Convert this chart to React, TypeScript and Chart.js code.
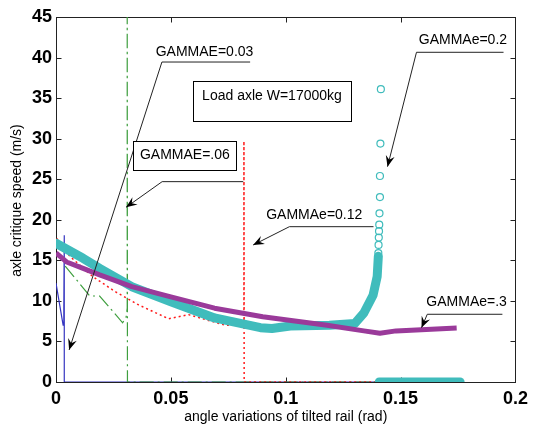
import React, { useEffect, useRef } from 'react';
import { Chart, registerables } from 'chart.js';
Chart.register(...registerables);

const xTickLabels = ['0', '0.05', '0.1', '0.15', '0.2'];
const yTickLabels = ['0', '5', '10', '15', '20', '25', '30', '35', '40', '45'];

// GAMMAE=0.03 (blue solid)
const blueX = [0, 0.0031, 0.0034, 0.0036, 0.0036, 0.141];
const blueY = [12.2, 7.0, 8.9, 18.1, 0, 0];

// GAMMAE=.06 (green dash-dot)
const greenX = [0.0040, 0.0147, 0.019, 0.029, 0.0305, 0.031, 0.031, 0.0311, 0.175];
const greenY = [14.3, 10.6, 10.6, 7.3, 8.0, 9.1, 45, 0, 0];

// GAMMAe=0.12 (red dotted)
const redX = [0.0003, 0.006, 0.016, 0.026, 0.036, 0.049, 0.0578, 0.0736, 0.079, 0.0818, 0.0818, 0.0819, 0.141];
const redY = [17.7, 15.5, 13.0, 11.1, 9.5, 7.8, 8.3, 7.0, 7.0, 7.3, 29.7, 0, 0];

// GAMMAe=0.2 (cyan circles, dense band)
const cyanX = [0, 0.0118, 0.019, 0.033, 0.05, 0.069, 0.089, 0.094, 0.102, 0.119, 0.13, 0.134, 0.138, 0.1398, 0.1403];
const cyanY = [17.1, 15.25, 14.0, 11.75, 9.9, 7.9, 6.7, 6.6, 6.9, 7.0, 7.2, 8.5, 10.7, 13.0, 15.5];
const cyanSparseX = [0.1403, 0.1404, 0.1405, 0.1406, 0.1407, 0.1408, 0.141, 0.141, 0.1412, 0.1414];
const cyanSparseY = [15.9, 16.9, 17.8, 18.6, 19.4, 20.8, 22.8, 25.4, 29.4, 36.1];
const cyanZeroX = [0.1407, 0.1759];
const cyanZeroY = [0, 0];

// GAMMAe=.3 (purple thick)
const purpleX = [0, 0.0046, 0.0118, 0.019, 0.033, 0.05, 0.069, 0.09, 0.118, 0.134, 0.141, 0.148, 0.1744];
const purpleY = [15.9, 14.8, 14.0, 13.2, 11.75, 10.5, 9.1, 8.05, 7.0, 6.3, 6.0, 6.3, 6.65];

const pts = (xs: number[], ys: number[]) => xs.map((x, i) => ({ x, y: ys[i] }));

type Note = { text: string; tx: number; ty: number; align?: CanvasTextAlign; box?: number[]; path?: number[][] };
const notes: Note[] = [
  { text: 'GAMMAE=0.03', tx: 0.0434, ty: 40.7, path: [[0.0845, 39.45], [0.0461, 39.45], [0.0057, 3.95]] },
  { text: 'GAMMAE=.06', tx: 0.0561, ty: 28.0, align: 'center', box: [0.0336, 29.75, 0.0786, 26.14], path: [[0.0815, 24.7], [0.0462, 24.7], [0.0305, 21.54]] },
  { text: 'Load axle W=17000kg', tx: 0.094, ty: 35.3, align: 'center', box: [0.0596, 37.11, 0.1284, 32.22] },
  { text: 'GAMMAe=0.2', tx: 0.1579, ty: 42.16, path: [[0.1948, 40.65], [0.1569, 40.65], [0.1443, 26.55]] },
  { text: 'GAMMAe=0.12', tx: 0.0915, ty: 20.59, path: [[0.1382, 19.15], [0.1016, 19.15], [0.0858, 16.89]] },
  { text: 'GAMMAe=.3', tx: 0.1612, ty: 9.9, path: [[0.1943, 8.35], [0.1616, 8.35], [0.1591, 6.69]] },
];

const FONT = '"Liberation Sans", Arial, sans-serif';

const boxPlugin = {
  id: 'boxPlugin',
  beforeDatasetsDraw(chart: any) {
    const { ctx, chartArea: a, scales } = chart;
    const x = scales.x, y = scales.y;
    ctx.save();
    ctx.strokeStyle = '#222';
    ctx.lineWidth = 1;
    const L = Math.round(a.left) + 0.5, R = Math.round(a.right) + 0.5;
    const T = Math.round(a.top) + 0.5, B = Math.round(a.bottom) + 0.5;
    ctx.strokeRect(L, T, R - L, B - T);
    ctx.beginPath();
    x.ticks.forEach((t: any) => {
      const p = Math.round(x.getPixelForValue(t.value)) + 0.5;
      ctx.moveTo(p, B); ctx.lineTo(p, B - 5);
      ctx.moveTo(p, T); ctx.lineTo(p, T + 5);
    });
    y.ticks.forEach((t: any) => {
      const p = Math.round(y.getPixelForValue(t.value)) + 0.5;
      ctx.moveTo(L, p); ctx.lineTo(L + 5, p);
      ctx.moveTo(R, p); ctx.lineTo(R - 5, p);
    });
    ctx.stroke();
    // axis titles
    ctx.fillStyle = '#000';
    ctx.font = `14px ${FONT}`;
    ctx.textAlign = 'center';
    ctx.textBaseline = 'alphabetic';
    ctx.fillText('angle variations of tilted rail (rad)', (a.left + a.right) / 2, 420.5);
    ctx.translate(20.5, (a.top + a.bottom) / 2 + 1);
    ctx.rotate(-Math.PI / 2);
    ctx.fillText('axle critique speed (m/s)', 0, 0);
    ctx.restore();
  },
  afterDatasetsDraw(chart: any) {
    const { ctx, scales } = chart;
    const px = (v: number) => scales.x.getPixelForValue(v);
    const py = (v: number) => scales.y.getPixelForValue(v);
    ctx.save();
    ctx.font = `14px ${FONT}`;
    ctx.textBaseline = 'middle';
    notes.forEach((n) => {
      if (n.box) {
        const [x0, y0, x1, y1] = n.box;
        ctx.fillStyle = '#fff';
        const bx = Math.round(px(x0)) + 0.5, by = Math.round(py(y0)) + 0.5;
        const bw = Math.round(px(x1) - px(x0)), bh = Math.round(py(y1) - py(y0));
        ctx.fillRect(bx, by, bw, bh);
        ctx.strokeStyle = '#000';
        ctx.lineWidth = 1;
        ctx.strokeRect(bx, by, bw, bh);
      }
      ctx.fillStyle = '#000';
      ctx.textAlign = n.align || 'left';
      ctx.fillText(n.text, px(n.tx), py(n.ty));
      if (n.path) {
        const P = n.path.map(([a, b]) => [px(a), py(b)]);
        ctx.strokeStyle = '#222';
        ctx.lineWidth = 1;
        ctx.beginPath();
        P.forEach(([a, b], i) => (i ? ctx.lineTo(a, b) : ctx.moveTo(a, b)));
        ctx.stroke();
        const [tx, ty] = P[P.length - 1];
        const [sx, sy] = P[P.length - 2];
        const ang = Math.atan2(ty - sy, tx - sx);
        const len = 11, hw = 4.5, notch = 7;
        const c = Math.cos(ang), s = Math.sin(ang);
        const bxp = tx - c * len, byp = ty - s * len;
        ctx.fillStyle = '#000';
        ctx.beginPath();
        ctx.moveTo(tx, ty);
        ctx.lineTo(bxp - s * hw, byp + c * hw);
        ctx.lineTo(tx - c * notch, ty - s * notch);
        ctx.lineTo(bxp + s * hw, byp - c * hw);
        ctx.closePath();
        ctx.fill();
      }
    });
    ctx.restore();
  },
};

export default function App() {
  const ref = useRef<HTMLCanvasElement>(null);
  useEffect(() => {
    const cyan = '#40bcbc';
    const chart = new Chart(ref.current as HTMLCanvasElement, {
      type: 'scatter',
      data: {
        datasets: [
          { label: 'GAMMAe=.3', data: pts(purpleX, purpleY), showLine: true, borderColor: '#9a3a9a', borderWidth: 5, pointRadius: 0, borderJoinStyle: 'round', borderCapStyle: 'butt', order: 0 } as any,
          { label: 'GAMMAe=0.2 sparse', data: pts(cyanSparseX, cyanSparseY), showLine: false, pointStyle: 'circle', pointRadius: 3.5, borderColor: cyan, backgroundColor: 'rgba(0,0,0,0)', pointBorderWidth: 1.2, order: 1 } as any,
          { label: 'GAMMAe=0.2', data: pts(cyanX, cyanY), showLine: true, borderColor: cyan, borderWidth: 9, pointRadius: 0, borderJoinStyle: 'round', borderCapStyle: 'round', order: 2 } as any,
          { label: 'GAMMAe=0.2 zero', data: pts(cyanZeroX, cyanZeroY), showLine: true, borderColor: cyan, borderWidth: 9, pointRadius: 0, borderCapStyle: 'round', order: 2 } as any,
          { label: 'GAMMAe=0.12', data: pts(redX, redY), showLine: true, borderColor: '#ff1a1a', borderWidth: 1.5, borderDash: [2, 3], pointRadius: 0, order: 3 } as any,
          { label: 'GAMMAE=.06', data: pts(greenX, greenY), showLine: true, borderColor: '#3f9f3f', borderWidth: 1.2, borderDash: [14, 4, 2, 4], pointRadius: 0, order: 4 } as any,
          { label: 'GAMMAE=0.03', data: pts(blueX, blueY), showLine: true, borderColor: '#3535c0', borderWidth: 1.2, pointRadius: 0, order: 5 } as any,
        ],
      },
      options: {
        responsive: false,
        animation: false,
        devicePixelRatio: 1,
        events: [],
        layout: { padding: { top: 17, right: 14, left: 0, bottom: 0 } },
        plugins: { legend: { display: false }, tooltip: { enabled: false } },
        scales: {
          x: {
            type: 'linear',
            min: 0,
            max: 0.2,
            grid: { display: false, drawTicks: false },
            border: { display: false },
            afterFit: (s: any) => { s.height = 48; },
            ticks: {
              stepSize: 0.05,
              padding: 6,
              color: '#000',
              font: { family: FONT, size: 18, weight: 'bold' },
              maxRotation: 0,
              callback: (_v: any, i: number) => xTickLabels[i],
            },
          },
          y: {
            type: 'linear',
            min: 0,
            max: 45,
            grid: { display: false, drawTicks: false },
            border: { display: false },
            afterFit: (s: any) => { s.width = 56; },
            ticks: {
              stepSize: 5,
              padding: 4,
              color: '#000',
              font: { family: FONT, size: 18, weight: 'bold' },
              callback: (_v: any, i: number) => yTickLabels[i],
            },
          },
        },
      } as any,
      plugins: [boxPlugin],
    });
    return () => chart.destroy();
  }, []);
  return (
    <div style={{ position: 'fixed', left: 0, top: 0, width: 534, height: 430, background: '#fff' }}>
      <canvas ref={ref} width={534} height={430} style={{ display: 'block', width: 534, height: 430 }} />
    </div>
  );
}
